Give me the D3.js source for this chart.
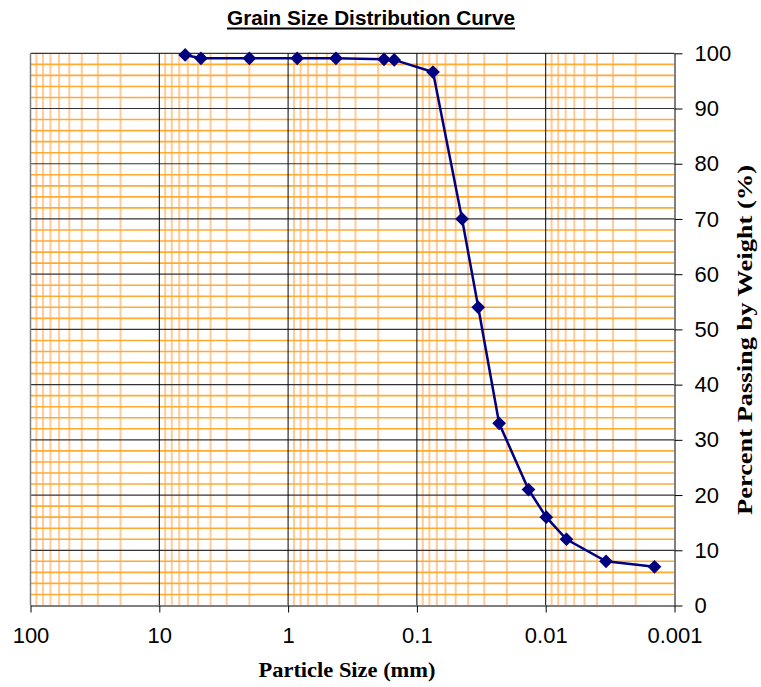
<!DOCTYPE html>
<html>
<head>
<meta charset="utf-8">
<script src="https://cdn.jsdelivr.net/npm/d3@7"></script>
<style>
  html, body { margin: 0; padding: 0; background: #fff; }
  svg { display: block; }
</style>
</head>
<body>
<svg id="chart" width="761" height="687"></svg>
<script>
// Data
const particleSize = [6.3, 4.75, 2.0, 0.85, 0.425, 0.18, 0.15, 0.075, 0.0446, 0.0334, 0.023, 0.0136, 0.0099, 0.0069, 0.0034, 0.00143];
const percentPassing = [99.7, 99.1, 99.1, 99.1, 99.1, 98.9, 98.8, 96.6, 70, 54, 33, 21, 16, 12, 8, 7];
const xTicks = [100, 10, 1, 0.1, 0.01, 0.001];
const xTickLabels = ["100", "10", "1", "0.1", "0.01", "0.001"];
const yTicks = [0, 10, 20, 30, 40, 50, 60, 70, 80, 90, 100];
const titleText = "Grain Size Distribution Curve";
const xTitleText = "Particle Size (mm)";
const yTitleText = "Percent Passing by Weight (%)";

const svg = d3.select("#chart");
const L = 30.5, R = 674.5, T = 53.3, B = 605.5;

const x = d3.scaleLog().domain([100, 0.001]).range([L, R]);
const y = d3.scaleLinear().domain([0, 100]).range([B, T]);

const g = svg.append("g");

// minor vertical gridlines
const minorX = [];
for (let e = -3; e < 2; e++) {
  for (let m = 2; m <= 9; m++) minorX.push(m * Math.pow(10, e));
}
g.selectAll("line.vminor").data(minorX).enter().append("line")
  .attr("x1", d => x(d)).attr("x2", d => x(d))
  .attr("y1", T).attr("y2", B)
  .attr("stroke", "#FFCC99").attr("stroke-width", 2);

// minor horizontal gridlines
const minorY = d3.range(0, 101, 2).filter(v => v % 10 !== 0);
g.selectAll("line.hminor").data(minorY).enter().append("line")
  .attr("x1", L).attr("x2", R)
  .attr("y1", d => y(d)).attr("y2", d => y(d))
  .attr("stroke", "#FFAA33").attr("stroke-width", 1.6);

// major horizontal gridlines
g.selectAll("line.hmajor").data(yTicks.filter(v => v > 0)).enter().append("line")
  .attr("x1", L).attr("x2", R)
  .attr("y1", d => y(d)).attr("y2", d => y(d))
  .attr("stroke", "#333").attr("stroke-width", 1.2);

// major vertical gridlines
g.selectAll("line.vmajor").data(xTicks.slice(1, -1)).enter().append("line")
  .attr("x1", d => x(d)).attr("x2", d => x(d))
  .attr("y1", T).attr("y2", B)
  .attr("stroke", "#000").attr("stroke-width", 1);

// left border
g.append("line").attr("x1", L).attr("x2", L).attr("y1", T).attr("y2", B)
  .attr("stroke", "#808080").attr("stroke-width", 1.5);

// x axis (bottom)
const xAxis = d3.axisBottom(x).tickValues(xTicks)
  .tickFormat((d, i) => xTickLabels[i]).tickSizeInner(7).tickSizeOuter(0).tickPadding(15);
const xg = svg.append("g").attr("transform", `translate(0,${B})`).call(xAxis);
xg.select(".domain").attr("stroke", "#808080").attr("stroke-width", 2);
xg.selectAll(".tick line").attr("stroke", "#000").attr("stroke-width", 1);
xg.selectAll(".tick text").attr("font-family", "Liberation Sans, Arial, sans-serif")
  .attr("font-size", 22).attr("fill", "#000");

// y axis (right)
const yAxis = d3.axisRight(y).tickValues(yTicks).tickSizeInner(8).tickSizeOuter(0).tickPadding(12);
const yg = svg.append("g").attr("transform", `translate(${R},0)`).call(yAxis);
yg.select(".domain").attr("stroke", "#808080").attr("stroke-width", 2);
yg.selectAll(".tick line").attr("stroke", "#000").attr("stroke-width", 1);
yg.selectAll(".tick text").attr("font-family", "Liberation Sans, Arial, sans-serif")
  .attr("font-size", 22).attr("fill", "#000");

// series line
const line = d3.line().x((d, i) => x(particleSize[i])).y(d => y(d));
svg.append("path").datum(percentPassing)
  .attr("d", line).attr("fill", "none")
  .attr("stroke", "#000080").attr("stroke-width", 2.5);

// markers
const diamond = d3.symbol().type(d3.symbolDiamond2).size(120);
svg.selectAll("path.pt").data(percentPassing).enter().append("path")
  .attr("d", diamond)
  .attr("transform", (d, i) => `translate(${x(particleSize[i])},${y(d)})`)
  .attr("fill", "#000080");

// title
svg.append("text").attr("x", 371).attr("y", 25)
  .attr("text-anchor", "middle")
  .attr("font-family", "Liberation Sans, Arial, sans-serif")
  .attr("font-weight", "bold").attr("font-size", 19.5)
  .attr("textLength", 288).attr("lengthAdjust", "spacingAndGlyphs")
  .text(titleText);
svg.append("line").attr("x1", 227).attr("x2", 515).attr("y1", 28.5).attr("y2", 28.5)
  .attr("stroke", "#000").attr("stroke-width", 1.8);

// x axis title
svg.append("text").attr("x", 347).attr("y", 677)
  .attr("text-anchor", "middle")
  .attr("font-family", "Liberation Serif, Times New Roman, serif")
  .attr("font-weight", "bold").attr("font-size", 22)
  .attr("textLength", 177).attr("lengthAdjust", "spacingAndGlyphs")
  .text(xTitleText);

// y axis title
svg.append("text")
  .attr("transform", "translate(752,340) rotate(-90)")
  .attr("text-anchor", "middle")
  .attr("font-family", "Liberation Serif, Times New Roman, serif")
  .attr("font-weight", "bold").attr("font-size", 21)
  .attr("textLength", 350).attr("lengthAdjust", "spacingAndGlyphs")
  .text(yTitleText);
</script>
</body>
</html>
